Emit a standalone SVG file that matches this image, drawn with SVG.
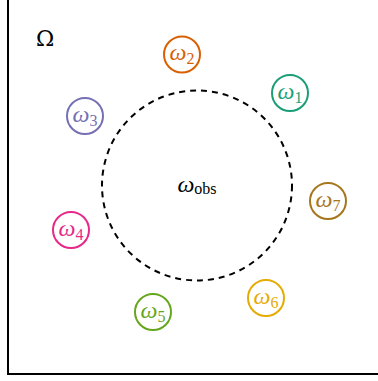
<svg xmlns="http://www.w3.org/2000/svg" width="378" height="381" viewBox="0 0 378 381">
<style>
.w{fill:#fff;stroke-width:2}
.t{font-family:"Liberation Serif","DejaVu Serif",serif;font-size:24px;text-anchor:middle}
.s{font-style:normal;font-size:16px}
.i{font-style:italic}
</style>
<rect x="0" y="0" width="378" height="381" fill="#fff"/>
<rect id="omega-box" x="8" y="-10" width="400" height="384" fill="none" stroke="#000" stroke-width="2"/>
<text x="45" y="46" style="font-family:'DejaVu Serif',serif;font-size:22px;text-anchor:middle">Ω</text>
<g id="obs">
<circle cx="197" cy="185.5" r="95" fill="none" stroke="#000" stroke-width="2" stroke-dasharray="6,5"/>
<text class="t" x="197" y="192"><tspan class="i">ω</tspan><tspan class="s" dy="2">obs</tspan></text>
</g>
<g id="w1"><circle class="w" cx="290" cy="93" r="18" stroke="#1b9e77"/><text class="t" x="290" y="99" fill="#1b9e77"><tspan class="i">ω</tspan><tspan class="s" dy="4">1</tspan></text></g>
<g id="w2"><circle class="w" cx="182" cy="54.5" r="18" stroke="#d95f02"/><text class="t" x="182" y="60" fill="#d95f02"><tspan class="i">ω</tspan><tspan class="s" dy="4">2</tspan></text></g>
<g id="w3"><circle class="w" cx="85" cy="116" r="18" stroke="#7570b3"/><text class="t" x="85" y="122" fill="#7570b3"><tspan class="i">ω</tspan><tspan class="s" dy="4">3</tspan></text></g>
<g id="w4"><circle class="w" cx="71" cy="230" r="18" stroke="#e7298a"/><text class="t" x="71" y="236" fill="#e7298a"><tspan class="i">ω</tspan><tspan class="s" dy="4">4</tspan></text></g>
<g id="w5"><circle class="w" cx="153" cy="312" r="18" stroke="#66a61e"/><text class="t" x="153" y="318" fill="#66a61e"><tspan class="i">ω</tspan><tspan class="s" dy="4">5</tspan></text></g>
<g id="w6"><circle class="w" cx="266" cy="298" r="18" stroke="#e6ab02"/><text class="t" x="266" y="304" fill="#e6ab02"><tspan class="i">ω</tspan><tspan class="s" dy="4">6</tspan></text></g>
<g id="w7"><circle class="w" cx="328" cy="201" r="18" stroke="#a6761d"/><text class="t" x="328" y="207" fill="#a6761d"><tspan class="i">ω</tspan><tspan class="s" dy="4">7</tspan></text></g>
<g id="connectors"/>
</svg>
